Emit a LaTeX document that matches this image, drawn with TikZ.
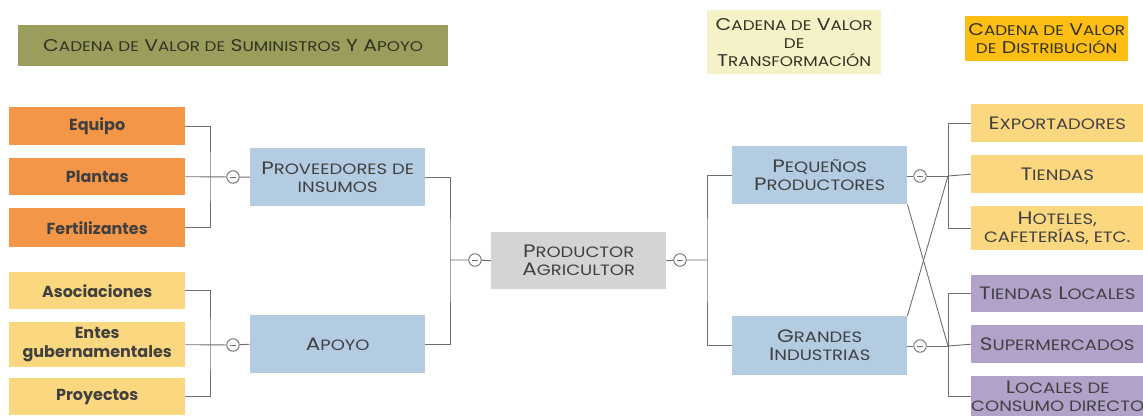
\documentclass[tikz,border=0pt]{standalone}
\usepackage{fontspec}
\setmainfont{Poppins}
\newfontfamily\scfont{Poppins}[FakeStretch=1.2]
\definecolor{txt}{RGB}{64,64,64}
\definecolor{ttxt}{RGB}{50,50,35}
\definecolor{olive}{RGB}{155,157,92}
\definecolor{paleyel}{RGB}{245,242,200}
\definecolor{gold}{RGB}{253,190,20}
\definecolor{orng}{RGB}{244,150,72}
\definecolor{yel}{RGB}{251,216,128}
\definecolor{blu}{RGB}{180,204,226}
\definecolor{gry}{RGB}{212,212,212}
\definecolor{purp}{RGB}{178,162,202}
\definecolor{linec}{RGB}{110,110,110}
% fake small caps: \smc{...} is set upper case at the smaller size in force
\newcommand\smsize{15}
\newcommand\smc[1]{{\fontsize{\smsize}{18}\selectfont\MakeUppercase{#1}}}
\tikzset{
  box/.style={rectangle, inner sep=0pt, align=center, anchor=north west, text=txt,
    font=\scfont\fontsize{18}{18}\selectfont},
  tbox/.style={box, text=ttxt, font=\scfont\fontsize{17}{18}\selectfont\renewcommand\smsize{14}},
  lbox/.style={box, font=\fontsize{16}{19}\selectfont\bfseries},
  conn/.style={draw=linec, line width=0.9pt},
  minus/.style={circle, draw=linec, fill=white, line width=0.9pt, minimum size=12.5pt, inner sep=0pt,
    path picture={\draw[linec, line width=0.9pt] ([xshift=-3pt]path picture bounding box.center) -- ([xshift=3pt]path picture bounding box.center);}}
}
\begin{document}
\begin{tikzpicture}[x=1pt,y=-1pt]
\useasboundingbox (0,0) rectangle (1143,415);
% titles
\node[tbox, fill=olive, minimum width=430pt, minimum height=41pt] (t1) at (18,25)
  {C\smc{adena de} V\smc{alor de} S\smc{uministros} Y A\smc{poyo}};
\node[tbox, fill=paleyel, minimum width=174pt, minimum height=64pt] (t2) at (707,10)
  {C\smc{adena de} V\smc{alor}\\\smc{de}\\T\smc{ransformación}};
\node[tbox, fill=gold, minimum width=163pt, minimum height=45pt] (t3) at (965,16)
  {C\smc{adena de} V\smc{alor}\\\smc{de} D\smc{istribución}};
% left leaves
\node[lbox, fill=orng, minimum width=176pt, minimum height=38pt] (equipo) at (9,107) {Equipo};
\node[lbox, fill=orng, minimum width=176pt, minimum height=37pt] (plantas) at (9,158) {Plantas};
\node[lbox, fill=orng, minimum width=176pt, minimum height=39pt] (fert) at (9,208) {Fertilizantes};
\node[lbox, fill=yel, minimum width=176pt, minimum height=37pt] (asoc) at (9,272) {Asociaciones};
\node[lbox, fill=yel, minimum width=176pt, minimum height=45pt] (entes) at (9,322) {Entes\\gubernamentales};
\node[lbox, fill=yel, minimum width=176pt, minimum height=37pt] (proy) at (9,378) {Proyectos};
% middle-left
\node[box, fill=blu, minimum width=175pt, minimum height=58pt] (prov) at (250,148)
  {P\smc{roveedores de}\\\smc{insumos}};
\node[box, fill=blu, minimum width=175pt, minimum height=58pt] (apoyo) at (250,315) {A\smc{poyo}};
% center
\node[box, fill=gry, minimum width=175pt, minimum height=57pt] (prod) at (491,232)
  {P\smc{roductor}\\A\smc{gricultor}};
% middle-right
\node[box, fill=blu, minimum width=175pt, minimum height=58pt] (peq) at (732,146)
  {P\smc{equeños}\\P\smc{roductores}};
\node[box, fill=blu, minimum width=175pt, minimum height=59pt] (gran) at (732,316)
  {G\smc{randes}\\I\smc{ndustrias}};
% right leaves
\node[box, fill=yel, minimum width=172pt, minimum height=38pt] (expo) at (971,104) {E\smc{xportadores}};
\node[box, fill=yel, minimum width=172pt, minimum height=38pt] (tien) at (971,155) {T\smc{iendas}};
\node[box, fill=yel, minimum width=172pt, minimum height=44pt] (hot) at (971,206)
  {H\smc{oteles,}\\\smc{cafeterías, etc.}};
\node[box, fill=purp, minimum width=172pt, minimum height=37pt] (tloc) at (971,275) {T\smc{iendas} L\smc{ocales}};
\node[box, fill=purp, minimum width=172pt, minimum height=38pt] (super) at (971,325) {S\smc{upermercados}};
\node[box, fill=purp, minimum width=172pt, minimum height=40pt] (loc) at (971,376)
  {L\smc{ocales de}\\\smc{consumo directo}};
% junction coordinates
\coordinate (jA) at (210,177);
\coordinate (jB) at (210,345);
\coordinate (jC) at (450,260);
\coordinate (jD) at (707,260);
\coordinate (jE) at (948,176);
\coordinate (jF) at (948,346);
% circles
\node[minus] (c1) at (233,177) {};
\node[minus] (c2) at (233,345) {};
\node[minus] (c3) at (475,260) {};
\node[minus] (c4) at (680,260) {};
\node[minus] (c5) at (920,176) {};
\node[minus] (c6) at (920,346) {};
% connectors left
\draw[conn] (equipo.east) -| (jA) |- (fert.east);
\draw[conn] (plantas.east) -- (c1) -- (prov.west);
\draw[conn] (asoc.east) -| (jB) |- (proy.east);
\draw[conn] (entes.east) -- (c2) -- (apoyo.west);
\draw[conn] (prov.east) -| (jC) |- (apoyo.east);
\draw[conn] (jC) -- (c3) -- (prod.west);
% connectors right
\draw[conn] (prod.east) -- (c4) -- (jD);
\draw[conn] (peq.west) -| (jD) |- (gran.west);
\draw[conn] (peq.east |- c5) -- (c5) -- (jE);
\draw[conn] (expo.west) -| (jE) |- (hot.west);
\draw[conn] (jE) -- (tien.west);
\draw[conn] (gran.east |- c6) -- (c6) -- (jF);
\draw[conn] (tloc.west) -| (jF) |- (loc.west);
\draw[conn] (jF) -- (super.west);
% cross links
\draw[conn] (peq.south east) -- (jF);
\draw[conn] (gran.north east) -- (jE);
\end{tikzpicture}
\end{document}
